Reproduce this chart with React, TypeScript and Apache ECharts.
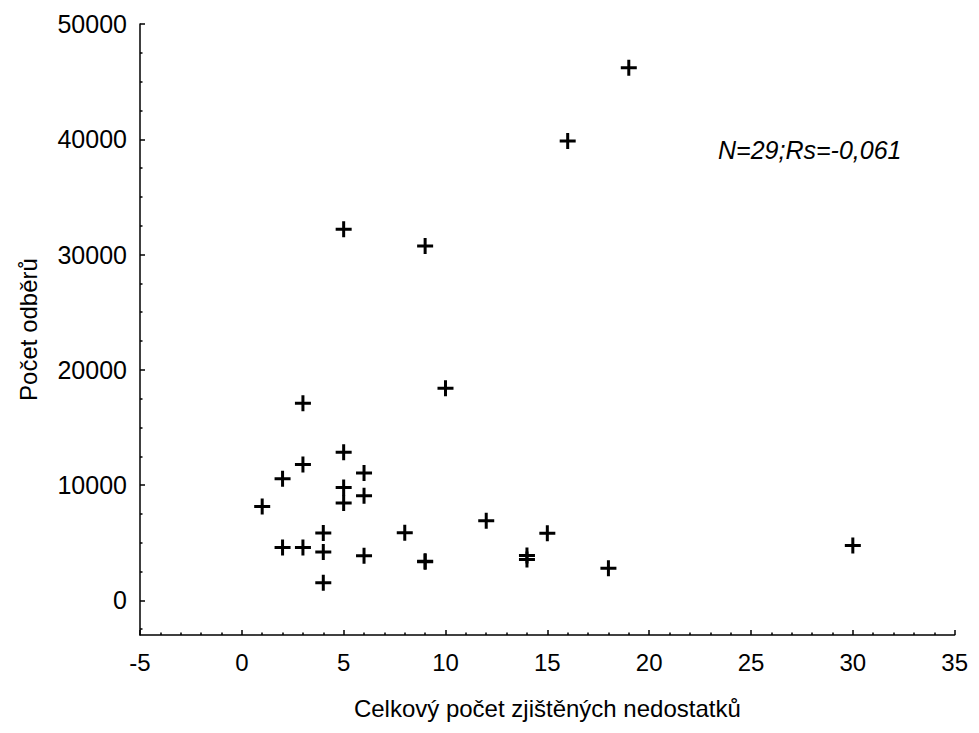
import React, { useEffect, useRef } from "react";
import * as echarts from "echarts";

const defects: number[] = [19, 16, 5, 9, 10, 3, 5, 3, 6, 2, 5, 6, 5, 1, 4, 8, 2, 3, 4, 6, 9, 9, 4, 12, 15, 14, 14, 18, 30];
const samples: number[] = [46200, 39850, 32200, 30750, 18400, 17100, 12850, 11800, 11050, 10550, 9800, 9070, 8450, 8150, 5850, 5870, 4600, 4600, 4200, 3880, 3350, 3400, 1530, 6900, 5830, 3900, 3550, 2780, 4770];
const yMajor: number[] = [0, 10000, 20000, 30000, 40000, 50000];
const yMinor: number[] = [-2500, 2500, 5000, 7500, 12500, 15000, 17500, 22500, 25000, 27500, 32500, 35000, 37500, 42500, 45000, 47500];
const xTitle = "Celkový počet zjištěných nedostatků";
const yTitle = "Počet odběrů";
const note = "N=29;Rs=-0,061";

const PLUS = "path://M0,6.5H16V9.5H0Z M6.5,0H9.5V16H6.5Z";
const FONT = "Liberation Sans, Arial, sans-serif";

export default function App() {
  const ref = useRef<HTMLDivElement>(null);
  useEffect(() => {
    if (!ref.current) return;
    const chart = echarts.init(ref.current, null, { renderer: "svg" });
    const data = defects.map((d, i) => [d, samples[i]]);
    chart.setOption({
      animation: false,
      backgroundColor: "#ffffff",
      textStyle: { fontFamily: FONT },
      grid: { left: 128, right: 10, top: 16, bottom: 80, containLabel: false },
      xAxis: {
        type: "value",
        min: -5,
        max: 35,
        interval: 5,
        name: xTitle,
        nameLocation: "middle",
        nameGap: 61,
        nameTextStyle: { color: "#000", fontSize: 24, fontFamily: FONT },
        axisLine: { show: true, onZero: false, lineStyle: { color: "#000", width: 1.5 } },
        axisTick: { show: true, inside: true, length: 5, lineStyle: { color: "#000", width: 1.5 } },
        minorTick: { show: true, splitNumber: 5, length: 2.5, lineStyle: { color: "#000", width: 1.5 } },
        axisLabel: { color: "#000", fontSize: 24, margin: 15, fontFamily: FONT },
        splitLine: { show: false },
      },
      yAxis: [
        {
          type: "value",
          min: -3000,
          max: 50000,
          position: "left",
          name: yTitle,
          nameLocation: "middle",
          nameGap: 100,
          nameRotate: 90,
          nameTextStyle: { color: "#000", fontSize: 24, fontFamily: FONT },
          axisLine: { show: true, onZero: false, lineStyle: { color: "#000", width: 1.5 } },
          axisTick: { show: true, inside: true, length: 5, customValues: yMajor, lineStyle: { color: "#000", width: 1.5 } },
          axisLabel: {
            color: "#000",
            fontSize: 25,
            margin: 13,
            customValues: yMajor,
            fontFamily: FONT,
            formatter: (v: number) => String(v),
          },
          splitLine: { show: false },
        },
        {
          type: "value",
          min: -3000,
          max: 50000,
          position: "left",
          offset: 0,
          axisLine: { show: false, onZero: false },
          axisTick: { show: true, inside: true, length: 2.5, customValues: yMinor, lineStyle: { color: "#000", width: 1.5 } },
          axisLabel: { show: false },
          splitLine: { show: false },
        },
      ],
      series: [
        {
          type: "scatter",
          yAxisIndex: 0,
          data,
          symbol: PLUS,
          symbolSize: 16,
          itemStyle: { color: "#000", opacity: 1 },
        },
      ],
      graphic: [
        {
          type: "text",
          x: 710,
          y: 142,
          style: {
            text: note,
            fill: "#000",
            font: "italic 25px " + FONT,
            textVerticalAlign: "middle",
          },
        },
      ],
    });
    return () => chart.dispose();
  }, []);
  return <div ref={ref} style={{ width: 963, height: 717 }} />;
}
